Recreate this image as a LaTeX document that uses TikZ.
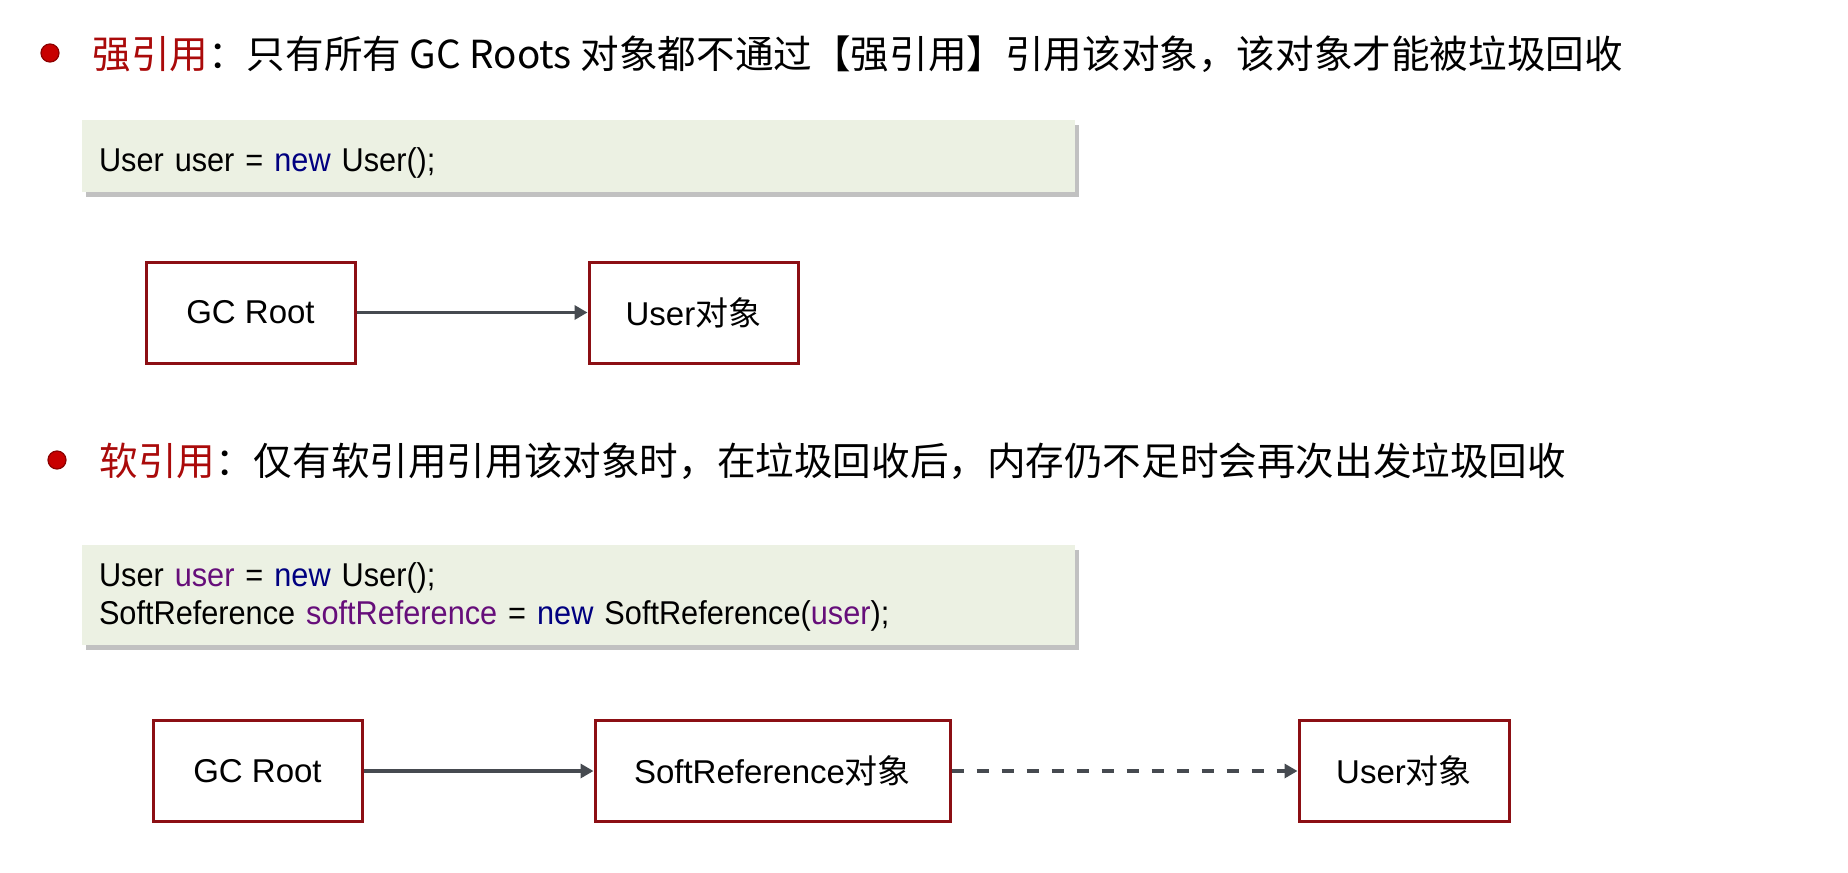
\documentclass[tikz,border=0pt]{standalone}
\usepackage{fontspec}
\setmainfont{Liberation Sans}
\newfontfamily\cjk{Noto Sans CJK SC}
\newfontfamily\codefont[FakeStretch=0.93]{Liberation Sans}
\usetikzlibrary{arrows.meta,shadows}

\definecolor{boxred}{RGB}{140,15,20}
\definecolor{titlered}{RGB}{170,10,10}
\definecolor{dotred}{RGB}{200,0,0}
\definecolor{codebg}{RGB}{236,241,227}
\definecolor{kwblue}{RGB}{0,0,128}
\definecolor{varpurple}{RGB}{102,14,122}
\definecolor{arrowgray}{RGB}{70,74,80}

\tikzset{
  objbox/.style={draw=boxred, line width=1.5pt, minimum height=50.5pt, inner sep=0pt, font=\fontsize{16.5}{20}\selectfont},
  codebox/.style={fill=codebg, inner xsep=8.5pt, inner ysep=0pt, align=left, font=\codefont\fontsize{16.5}{19}\selectfont,
    drop shadow={shadow xshift=2pt, shadow yshift=-2.5pt, fill=black!40, opacity=.6}},
  heading/.style={anchor=base west, inner sep=0pt, font=\cjk\fontsize{19.3}{24}\selectfont},
  bulletdot/.style={circle, fill=dotred, draw=dotred!70!black, line width=.6pt, inner sep=0pt, minimum size=9pt},
  link/.style={draw=arrowgray, line width=1.65pt, -{Triangle[length=6.5pt,width=7pt]}},
}

\begin{document}
\begin{tikzpicture}[x=0.5pt,y=-0.5pt]
\fill[white] (0,0) rectangle (1848,873);
\useasboundingbox (0,0) rectangle (1848,873);

% strong reference
\node[bulletdot] (dot1) at (50,53) {};
\node[heading] (title1) at (92,68) {\textcolor{titlered}{强引用}：只有所有 GC Roots 对象都不通过【强引用】引用该对象，该对象才能被垃圾回收};

\node[codebox, minimum height=36pt, text width=479.5pt, text height=19.5pt, text depth=4pt] (code1) at (578.5,156) {User user = \textcolor{kwblue}{new} User();};

\node[objbox, minimum width=104.5pt] (root1) at (250.5,312.5) {GC Root};
\node[objbox, minimum width=104.5pt] (user1) at (693.5,312.5) {User{\cjk 对象}};

\draw[link] (root1) -- (user1);

% soft reference
\node[bulletdot] (dot2) at (57,460) {};
\node[heading] (title2) at (99,475) {\textcolor{titlered}{软引用}：仅有软引用引用该对象时，在垃圾回收后，内存仍不足时会再次出发垃圾回收};

\node[codebox, minimum height=50pt, text width=479.5pt, text height=14pt, text depth=22.5pt] (code2) at (578.5,595) {User \textcolor{varpurple}{user} = \textcolor{kwblue}{new} User();\\
SoftReference \textcolor{varpurple}{softReference} = \textcolor{kwblue}{new} SoftReference(\textcolor{varpurple}{user});};

\node[objbox, minimum width=104.5pt] (root2) at (257.5,771) {GC Root};
\node[objbox, minimum width=177.5pt] (soft2) at (772.5,771) {SoftReference{\cjk 对象}};
\node[objbox, minimum width=105pt] (user2) at (1404,771) {User{\cjk 对象}};

\draw[link] (root2) -- (soft2);
\draw[link, dash pattern=on 6pt off 6.5pt] (soft2) -- (user2);
\end{tikzpicture}
\end{document}
